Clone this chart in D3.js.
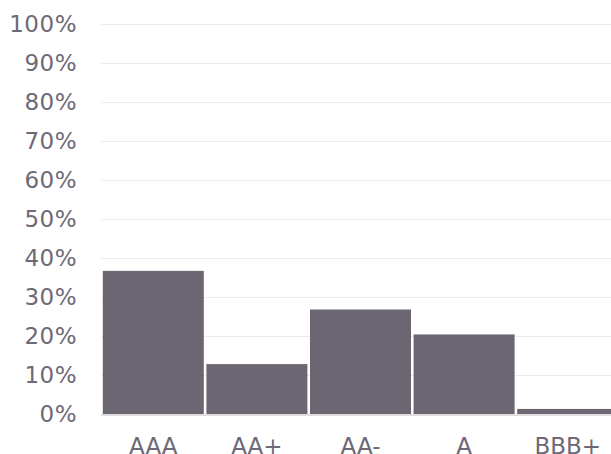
<!DOCTYPE html>
<html>
<head>
<meta charset="utf-8">
<script src="https://cdn.jsdelivr.net/npm/d3@7"></script>
<style>
  body { margin: 0; background: #fff; overflow: hidden; }
  text { font-family: "DejaVu Sans", sans-serif; }
</style>
</head>
<body>
<div id="chart"></div>
<script>
const ratings = ["AAA", "AA+", "AA-", "A", "BBB+"];
const shares = [0.367, 0.128, 0.268, 0.204, 0.013];
const yTicks = [0, 0.1, 0.2, 0.3, 0.4, 0.5, 0.6, 0.7, 0.8, 0.9, 1.0];

const width = 611;
const height = 454;

const data = ratings.map((r, i) => ({ rating: r, share: shares[i] }));

const svg = d3.select("#chart")
    .append("svg")
    .attr("width", width)
    .attr("height", height);

const x = d3.scaleBand()
    .domain(ratings)
    .range([101.5, 619.5])
    .paddingInner(0.025)
    .paddingOuter(0.0125);

const y = d3.scaleLinear()
    .domain([0, 1])
    .range([414, 24]);

// gridlines
svg.append("g")
    .selectAll("line")
    .data(yTicks.filter(d => d > 0))
    .join("line")
    .attr("x1", 101)
    .attr("x2", width)
    .attr("y1", d => Math.round(y(d)) + 0.5)
    .attr("y2", d => Math.round(y(d)) + 0.5)
    .attr("stroke", "#ebebeb")
    .attr("stroke-width", 1);

// y tick labels
svg.append("g")
    .selectAll("text")
    .data(yTicks)
    .join("text")
    .attr("x", 77)
    .attr("y", d => y(d))
    .attr("dy", "0.36em")
    .attr("text-anchor", "end")
    .style("font-size", "23px")
    .style("letter-spacing", "0.5px")
    .style("fill", "#6e6976")
    .text(d3.format(".0%"));

// bars
svg.append("g")
    .selectAll("rect")
    .data(data)
    .join("rect")
    .attr("x", d => x(d.rating))
    .attr("y", d => y(d.share))
    .attr("width", x.bandwidth())
    .attr("height", d => y(0) - y(d.share))
    .attr("fill", "#6c6673");

// baseline
svg.append("line")
    .attr("x1", 101)
    .attr("x2", width)
    .attr("y1", y(0) + 1)
    .attr("y2", y(0) + 1)
    .attr("stroke", "#dedede")
    .attr("stroke-width", 2);

// x labels
svg.append("g")
    .selectAll("text")
    .data(ratings)
    .join("text")
    .attr("x", d => x(d) + x.bandwidth() / 2)
    .attr("y", 454)
    .attr("text-anchor", "middle")
    .style("font-size", "23px")
    .style("fill", "#6e6976")
    .text(d => d);
</script>
</body>
</html>
